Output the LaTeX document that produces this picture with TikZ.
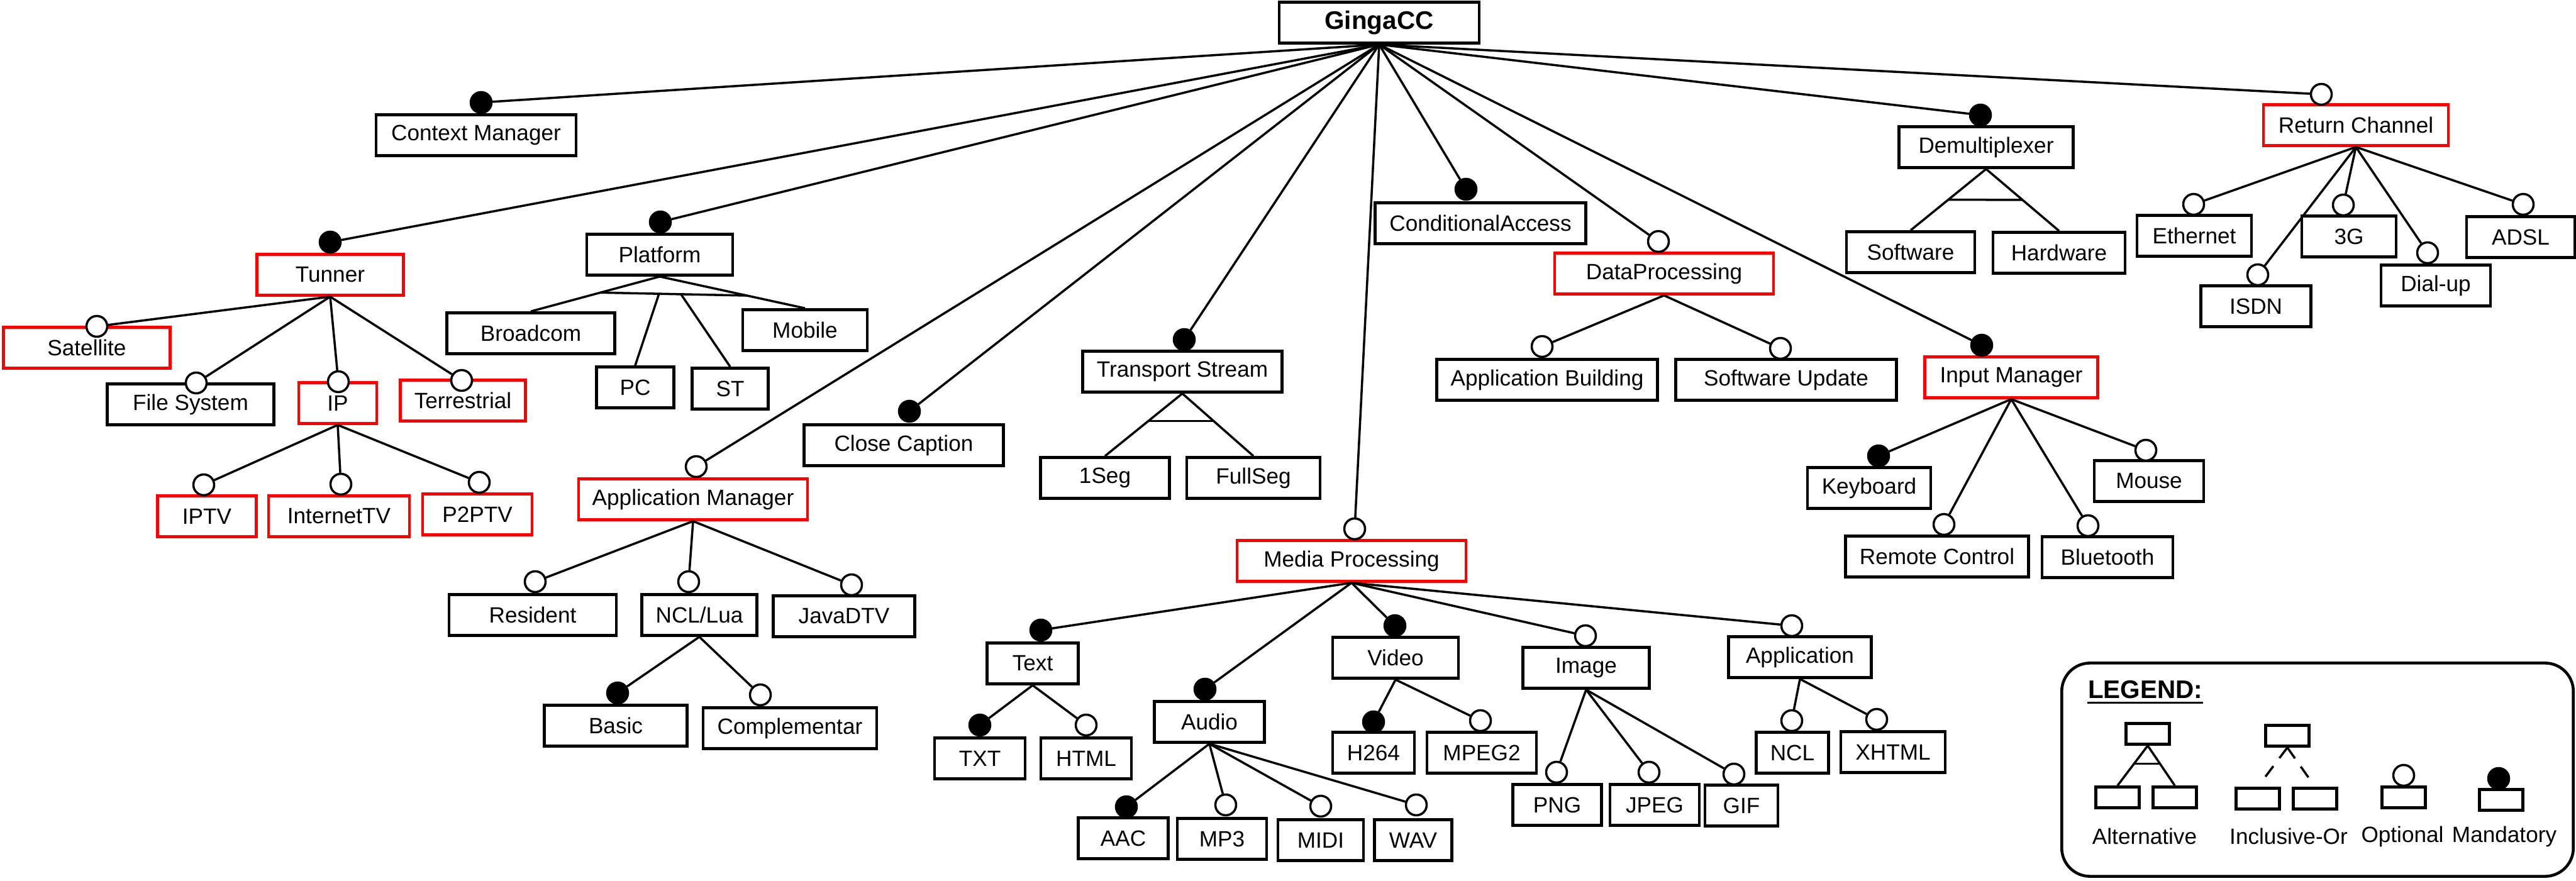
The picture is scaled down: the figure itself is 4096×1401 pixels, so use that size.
\documentclass[tikz,border=0pt]{standalone}
\usepackage{fontspec}
\setmainfont{Liberation Sans}
\usetikzlibrary{positioning,calc}

\begin{document}
\begin{tikzpicture}[x=0.01cm,y=-0.01cm,font=\fontsize{10}{12}\selectfont,
  feat/.style={draw,line width=1.3pt,minimum height=0.65cm,inner sep=0pt},
  featr/.style={feat,draw=red},
  opt/.style={circle,draw,fill=white,line width=1pt,minimum size=0.33cm,inner sep=0pt},
  mand/.style={opt,fill=black},
  conn/.style={line width=1pt},
  lbox/.style={draw,line width=1.3pt,minimum width=0.69cm,minimum height=0.33cm,inner sep=0pt}]
\useasboundingbox (0,0) rectangle (4096,1401);

% root
\node[feat,minimum width=3.18cm,font=\fontsize{11.5}{13}\selectfont\bfseries] (ginga) at (2193,36) {GingaCC};

% first level
\node[feat,minimum width=3.18cm] (ctx) at (757,215) {Context Manager};
\node[featr,minimum width=2.33cm] (tun) at (525,437) {Tunner};
\node[feat,minimum width=2.32cm] (plat) at (1049,405) {Platform};
\node[featr,minimum width=3.64cm] (appm) at (1102,794) {Application Manager};
\node[feat,minimum width=3.17cm] (cc) at (1437,708) {Close Caption};
\node[feat,minimum width=3.17cm] (ts) at (1880,591) {Transport Stream};
\node[featr,minimum width=3.64cm] (media) at (2149,892) {Media Processing};
\node[feat,minimum width=3.35cm] (ca) at (2354,355) {ConditionalAccess};
\node[featr,minimum width=3.48cm] (dp) at (2646,435) {DataProcessing};
\node[featr,minimum width=2.75cm] (inp) at (3198,600) {Input Manager};
\node[feat,minimum width=2.77cm] (demux) at (3158,234) {Demultiplexer};
\node[featr,minimum width=2.94cm] (ret) at (3746,199) {Return Channel};

% tunner, platform, application manager
\node[featr,minimum width=2.65cm] (sat) at (138,553) {Satellite};
\node[feat,minimum width=2.65cm] (fs) at (303,643) {File System};
\node[featr,minimum width=1.24cm] (ip) at (537,641) {IP};
\node[featr,minimum width=1.99cm] (ter) at (736,637) {Terrestrial};
\node[featr,minimum width=1.57cm] (iptv) at (329,821) {IPTV};
\node[featr,minimum width=2.24cm] (itv) at (539,821) {InternetTV};
\node[featr,minimum width=1.74cm] (p2p) at (759,818) {P2PTV};
\node[feat,minimum width=2.67cm] (broad) at (844,530) {Broadcom};
\node[feat,minimum width=1.23cm] (pc) at (1010,616) {PC};
\node[feat,minimum width=1.21cm] (st) at (1161,618) {ST};
\node[feat,minimum width=1.98cm] (mob) at (1280,525) {Mobile};
\node[feat,minimum width=2.66cm] (res) at (847,978) {Resident};
\node[feat,minimum width=1.83cm] (ncllua) at (1112,978) {NCL/Lua};
\node[feat,minimum width=2.25cm] (jdtv) at (1342,980) {JavaDTV};
\node[feat,minimum width=2.27cm] (basic) at (979,1154) {Basic};
\node[feat,minimum width=2.76cm] (compl) at (1256,1158) {Complementar};

% transport stream, data processing, demultiplexer, return channel
\node[feat,minimum width=2.05cm] (oneseg) at (1757,760) {1Seg};
\node[feat,minimum width=2.12cm] (fullseg) at (1993,760) {FullSeg};
\node[feat,minimum width=3.51cm] (appb) at (2460,604) {Application Building};
\node[feat,minimum width=3.51cm] (swu) at (2840,604) {Software Update};
\node[feat,minimum width=2.04cm] (sw) at (3038,401) {Software};
\node[feat,minimum width=2.10cm] (hw) at (3274,402) {Hardware};
\node[feat,minimum width=1.82cm] (eth) at (3489,375) {Ethernet};
\node[feat,minimum width=1.75cm] (isdn) at (3587,487) {ISDN};
\node[feat,minimum width=1.50cm] (gthree) at (3735,376) {3G};
\node[feat,minimum width=1.74cm] (dial) at (3873,454) {Dial-up};
\node[feat,minimum width=1.72cm] (adsl) at (4008,377) {ADSL};

% input manager
\node[feat,minimum width=1.96cm] (kb) at (2972,776) {Keyboard};
\node[feat,minimum width=2.91cm] (rc) at (3080,885) {Remote Control};
\node[feat,minimum width=2.08cm] (bt) at (3351,886) {Bluetooth};
\node[feat,minimum width=1.74cm] (mouse) at (3417,765) {Mouse};

% media processing
\node[feat,minimum width=1.45cm] (text) at (1642,1055) {Text};
\node[feat,minimum width=1.44cm] (txt) at (1558,1206) {TXT};
\node[feat,minimum width=1.44cm] (html) at (1727,1206) {HTML};
\node[feat,minimum width=1.75cm] (audio) at (1923,1148) {Audio};
\node[feat,minimum width=1.43cm] (aac) at (1786,1333) {AAC};
\node[feat,minimum width=1.42cm] (mp3) at (1943,1334) {MP3};
\node[feat,minimum width=1.36cm] (midi) at (2100,1336) {MIDI};
\node[feat,minimum width=1.23cm] (wav) at (2247,1336) {WAV};
\node[feat,minimum width=2.00cm] (video) at (2219,1046) {Video};
\node[feat,minimum width=1.30cm] (h264) at (2184,1197) {H264};
\node[feat,minimum width=1.74cm] (mpeg2) at (2356,1197) {MPEG2};
\node[feat,minimum width=2.01cm] (img) at (2522,1062) {Image};
\node[feat,minimum width=1.41cm] (png) at (2476,1280) {PNG};
\node[feat,minimum width=1.42cm] (jpeg) at (2631,1280) {JPEG};
\node[feat,minimum width=1.16cm] (gif) at (2769,1281) {GIF};
\node[feat,minimum width=2.27cm] (app) at (2862,1045) {Application};
\node[feat,minimum width=1.15cm] (ncl) at (2850,1197) {NCL};
\node[feat,minimum width=1.66cm] (xhtml) at (3010,1196) {XHTML};

% optional / mandatory marks
\node[mand] (ctx-d) at (765,163) {};
\node[mand] (tun-d) at (525,385) {};
\node[mand] (plat-d) at (1050,353) {};
\node[opt] (appm-d) at (1107,742) {};
\node[mand] (cc-d) at (1446,654) {};
\node[mand] (ts-d) at (1883,540) {};
\node[opt] (media-d) at (2154,841) {};
\node[mand] (ca-d) at (2331,301) {};
\node[opt] (dp-d) at (2637,384) {};
\node[mand] (inp-d) at (3151,549) {};
\node[mand] (demux-d) at (3149,183) {};
\node[opt] (ret-d) at (3691,150) {};
\node[opt] (sat-d) at (154,519) {};
\node[opt] (fs-d) at (312,609) {};
\node[opt] (ip-d) at (538,607) {};
\node[opt] (ter-d) at (734,605) {};
\node[opt] (iptv-d) at (324,771) {};
\node[opt] (itv-d) at (542,770) {};
\node[opt] (p2p-d) at (762,767) {};
\node[opt] (res-d) at (851,925) {};
\node[opt] (ncllua-d) at (1095,925) {};
\node[opt] (jdtv-d) at (1354,930) {};
\node[mand] (basic-d) at (982,1102) {};
\node[opt] (compl-d) at (1209,1105) {};
\node[opt] (appb-d) at (2452,551) {};
\node[opt] (swu-d) at (2831,554) {};
\node[opt] (eth-d) at (3488,325) {};
\node[opt] (isdn-d) at (3590,437) {};
\node[opt] (gthree-d) at (3726,326) {};
\node[opt] (dial-d) at (3860,402) {};
\node[opt] (adsl-d) at (4012,325) {};
\node[mand] (kb-d) at (2987,725) {};
\node[opt] (rc-d) at (3091,834) {};
\node[opt] (bt-d) at (3320,836) {};
\node[opt] (mouse-d) at (3412,716) {};
\node[mand] (text-d) at (1655,1002) {};
\node[mand] (txt-d) at (1558,1153) {};
\node[opt] (html-d) at (1727,1153) {};
\node[mand] (audio-d) at (1916,1096) {};
\node[mand] (aac-d) at (1791,1283) {};
\node[opt] (mp3-d) at (1949,1280) {};
\node[opt] (midi-d) at (2100,1282) {};
\node[opt] (wav-d) at (2252,1280) {};
\node[mand] (video-d) at (2218,995) {};
\node[mand] (h264-d) at (2184,1148) {};
\node[opt] (mpeg2-d) at (2354,1146) {};
\node[opt] (img-d) at (2521,1011) {};
\node[opt] (png-d) at (2475,1228) {};
\node[opt] (jpeg-d) at (2622,1228) {};
\node[opt] (gif-d) at (2757,1231) {};
\node[opt] (app-d) at (2849,995) {};
\node[opt] (ncl-d) at (2849,1146) {};
\node[opt] (xhtml-d) at (2984,1144) {};

% connectors
\foreach \c in {ctx,tun,plat,appm,cc,ts,media,ca,dp,inp,demux,ret}
  \draw[conn] (ginga.south) -- (\c-d);
\foreach \c in {sat,fs,ip,ter} \draw[conn] (tun.south) -- (\c-d);
\foreach \c in {iptv,itv,p2p} \draw[conn] (ip.south) -- (\c-d);
\foreach \c in {res,ncllua,jdtv} \draw[conn] (appm.south) -- (\c-d);
\foreach \c in {basic,compl} \draw[conn] (ncllua.south) -- (\c-d);
\foreach \c in {appb,swu} \draw[conn] (dp.south) -- (\c-d);
\foreach \c in {eth,isdn,gthree,dial,adsl} \draw[conn] (ret.south) -- (\c-d);
\foreach \c in {kb,rc,bt,mouse} \draw[conn] (inp.south) -- (\c-d);
\foreach \c in {text,audio,video,img,app} \draw[conn] (media.south) -- (\c-d);
\foreach \c in {txt,html} \draw[conn] (text.south) -- (\c-d);
\foreach \c in {aac,mp3,midi,wav} \draw[conn] (audio.south) -- (\c-d);
\foreach \c in {h264,mpeg2} \draw[conn] (video.south) -- (\c-d);
\foreach \c in {png,jpeg,gif} \draw[conn] (img.south) -- (\c-d);
\foreach \c in {ncl,xhtml} \draw[conn] (app.south) -- (\c-d);

% alternative groups
\draw[conn] (plat.south) -- (broad.north);
\draw[conn] (plat.south) -- (mob.north);
\coordinate (plat-l) at ($(plat.south)!0.46!(broad.north)$);
\coordinate (plat-r) at ($(plat.south)!0.6!(mob.north)$);
\draw[conn] (plat-l) -- (plat-r);
\draw[conn] ($(plat-l)!0.4!(plat-r)$) -- (pc.north);
\draw[conn] ($(plat-l)!0.55!(plat-r)$) -- (st.north);

\draw[conn] (ts.south) -- (oneseg.north);
\draw[conn] (ts.south) -- (fullseg.north);
\draw[conn] ($(ts.south)!0.44!(oneseg.north)$) -- ($(ts.south)!0.44!(fullseg.north)$);

\draw[conn] (demux.south) -- (sw.north);
\draw[conn] (demux.south) -- (hw.north);
\draw[conn] ($(demux.south)!0.5!(sw.north)$) -- ($(demux.south)!0.5!(hw.north)$);

% legend
\node[draw,line width=1.3pt,rounded corners=0.45cm,minimum width=8.13cm,minimum height=3.39cm] (legend) at (3685,1224) {};
\node[inner sep=0pt,font=\fontsize{11.5}{13}\selectfont\bfseries] (lgd) at (3411,1097) {LEGEND:};
\draw[line width=1pt] ([yshift=-1.5pt]lgd.south west) -- ([yshift=-1.5pt]lgd.south east);

\node[lbox] (la) at (3415,1167) {};
\node[lbox] (la1) at (3367,1268) {};
\node[lbox] (la2) at (3458,1268) {};
\draw[conn] (la.south) -- (la1.north);
\draw[conn] (la.south) -- (la2.north);
\draw[conn] ($(la.south)!0.45!(la1.north)$) -- ($(la.south)!0.45!(la2.north)$);

\node[lbox] (li) at (3637,1170) {};
\node[lbox] (li1) at (3590,1270) {};
\node[lbox] (li2) at (3681,1270) {};
\draw[conn,dash pattern=on 0.21cm off 0.16cm] (li.south) -- ($(li.south)!0.8!(li1.north)$);
\draw[conn,dash pattern=on 0.21cm off 0.16cm] (li.south) -- ($(li.south)!0.8!(li2.north)$);

\node[lbox] (lo) at (3822,1268) {};
\node[opt] (lo-d) at (3822,1233) {};
\node[lbox] (lm) at (3977,1272) {};
\node[mand] (lm-d) at (3973,1238) {};

\node (lt-alt) at (3410,1330) {Alternative};
\node (lt-inc) at (3639,1330) {Inclusive-Or};
\node (lt-opt) at (3820,1330) {Optional};
\node (lt-mand) at (3982,1330) {Mandatory};
\end{tikzpicture}
\end{document}
